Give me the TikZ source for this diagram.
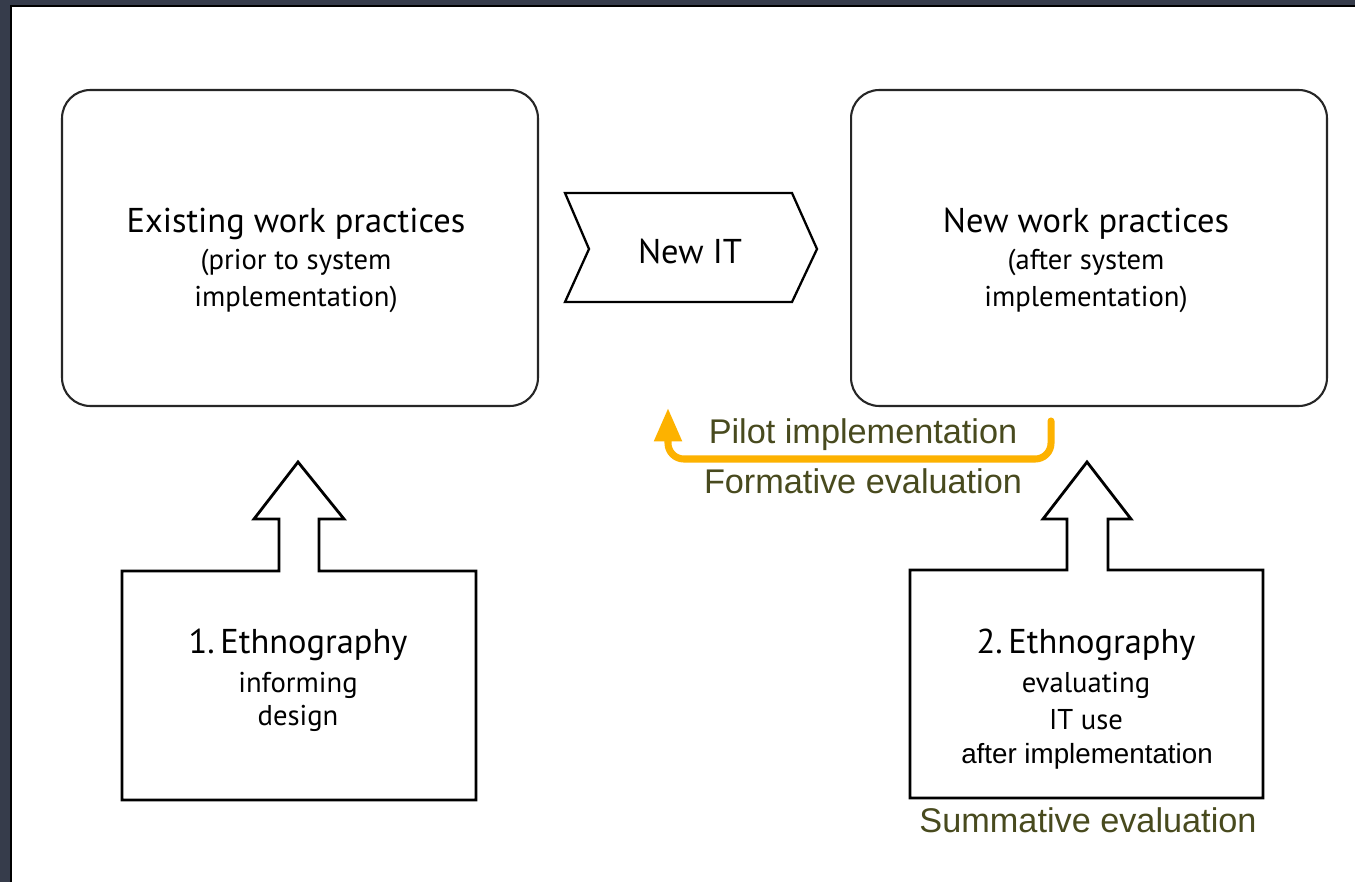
\documentclass[tikz,border=0pt]{standalone}
\usepackage{fontspec}
\setmainfont{PT Sans}
\newfontfamily\helv{Liberation Sans}
\usetikzlibrary{positioning, arrows.meta}
\definecolor{framegrey}{RGB}{54,60,75}
\definecolor{olive}{RGB}{72,74,30}
\definecolor{pilotorange}{RGB}{253,178,0}

\begin{document}
\begin{tikzpicture}[
x=0.02cm, y=-0.02cm,
practice/.style={draw=black!85,
  line width=1.2pt,
  rounded corners=16pt,
  minimum width=9.52cm,
  minimum height=6.32cm
},
outline/.style={draw=black, line width=1.6pt, line join=miter},
bigtext/.style={anchor=base, font=\fontsize{19.6}{22}\selectfont},
smalltext/.style={anchor=base, font=\fontsize{16.3}{19}\selectfont},
evaltext/.style={anchor=base, text=olive, font=\helv\fontsize{19.5}{22}\selectfont},
>=latex
]

% frame
\useasboundingbox (0,0) rectangle (1355,882);
\fill[framegrey] (0,0) rectangle (1355,882);
\fill[white] (11,6) rectangle (1355,882);
\draw[line width=1.2pt] (11,882) -- (11,6) -- (1355,6);

% work practices
\node[practice] (existing) at (300,248) {};
\node[practice] (newwork) at (1089,248) {};

\node[bigtext] (existingtitle) at (296,232)
    {Existing work practices};
\node[smalltext] (existingnote) at (296,269)
    {(prior to system};
\node[smalltext] (existingimpl) at (296,306)
    {implementation)};

\node[bigtext] (newtitle) at (1086,232)
    {New work practices};
\node[smalltext] (newnote) at (1086,269)
    {(after system};
\node[smalltext] (newimpl) at (1086,306)
    {implementation)};

% new IT
\draw[outline, line width=1.3pt] (565,193) -- (792,193) -- (817,249) -- (792,302)
    -- (565,302) -- (589,249) -- cycle;
\node[bigtext] (newit) at (690,263)
    {New IT};

% ethnography boxes
\draw[outline] (122,571) -- (279,571) -- (279,519) -- (254,519) -- (298,462)
    -- (344,519) -- (319,519) -- (319,571) -- (476,571) -- (476,800)
    -- (122,800) -- cycle;
\node[bigtext] (ethnoone) at (298,653)
    {1.\,Ethnography};
\node[smalltext] (informing) at (298,692)
    {informing};
\node[smalltext] (design) at (298,725)
    {design};

\draw[outline] (910,570) -- (1067,570) -- (1067,519) -- (1043,519) -- (1087,462)
    -- (1131,519) -- (1108,519) -- (1108,570) -- (1263,570) -- (1263,798)
    -- (910,798) -- cycle;
\node[bigtext] (ethnotwo) at (1086,653)
    {2.\,Ethnography};
\node[smalltext] (evaluating) at (1086,692)
    {evaluating};
\node[smalltext] (ituse) at (1086,729)
    {IT use};
\node[anchor=base, font=\helv\fontsize{15.8}{18}\selectfont] (afterimpl) at (1087,763)
    {after implementation};

% pilot loop
\coordinate (pilotstart) at (1051,421);
\coordinate (pilotend) at (668,408);
\draw[pilotorange, line width=4pt, line cap=round, rounded corners=9pt,
    -{Triangle[width=15pt,length=19pt]}]
    (pilotstart) |- (668,459) -- (pilotend);

\node[evaltext] (pilot) at (863,443)
    {Pilot implementation};
\node[evaltext] (formative) at (863,493)
    {Formative evaluation};
\node[evaltext] (summative) at (1088,832)
    {Summative evaluation};
\end{tikzpicture}
\end{document}
